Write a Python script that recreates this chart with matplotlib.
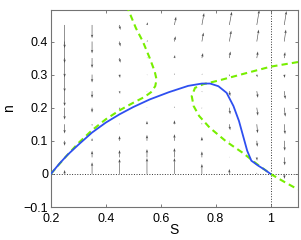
import numpy as np
import matplotlib
matplotlib.use('Agg')
import matplotlib.pyplot as plt

plt.rcParams['font.family'] = ['Liberation Sans', 'DejaVu Sans']

# trajectory (blue)
traj_S = [0.2, 0.23, 0.26, 0.3, 0.35, 0.4, 0.45, 0.5, 0.56, 0.63, 0.7, 0.75, 0.78,
          0.81, 0.84, 0.865, 0.885, 0.9, 0.915, 0.93, 0.955, 0.98, 1.0]
traj_n = [0, 0.03, 0.057, 0.088, 0.125, 0.155, 0.18, 0.202, 0.225, 0.247, 0.266, 0.273,
          0.273, 0.265, 0.245, 0.205, 0.16, 0.115, 0.07, 0.04, 0.025, 0.012, 0]

# nullclines (green dashed)
null1_S = [0.2, 0.25, 0.3, 0.35, 0.4, 0.45, 0.5, 0.54, 0.565, 0.58, 0.585, 0.578,
           0.56, 0.535, 0.51, 0.48]
null1_n = [0, 0.048, 0.093, 0.132, 0.165, 0.192, 0.215, 0.232, 0.247, 0.265, 0.285, 0.31,
           0.35, 0.4, 0.44, 0.5]
null2_S = [1.1, 1.0, 0.9, 0.815, 0.755, 0.725, 0.713, 0.72, 0.74, 0.778, 0.84, 0.9,
           0.95, 1.0, 1.05, 1.1]
null2_n = [0.338, 0.324, 0.302, 0.283, 0.271, 0.26, 0.235, 0.205, 0.175, 0.14, 0.097,
           0.063, 0.03, 0.0, -0.024, -0.047]

# direction field grid
grid_S = [0.25, 0.35, 0.45, 0.55, 0.65, 0.75, 0.85, 0.95, 1.05]
grid_n = [0, 0.05, 0.1, 0.15, 0.2, 0.25, 0.3, 0.35, 0.4, 0.45]

# one list per column (S), rows go up in n
field_V = [
    [0.012, -0.005, -0.015, -0.028, -0.036, -0.045, -0.052, -0.058, -0.065, -0.07],
    [0.035, 0.02, 0.008, -0.005, -0.015, -0.021, -0.024, -0.03, -0.036, -0.04],
    [0.045, 0.022, 0.015, 0.003, -0.005, -0.008, -0.01, -0.014, -0.015, -0.015],
    [0.048, 0.025, 0.018, 0.01, 0.002, -0.002, -0.002, 0.002, 0.004, 0.008],
    [0.048, 0.028, 0.02, 0.012, 0.004, 0.002, 0.004, 0.009, 0.016, 0.025],
    [0.03, 0.018, 0.012, 0.004, -0.003, -0.003, 0.003, 0.015, 0.027, 0.036],
    [0.015, 0.002, -0.003, -0.018, -0.02, -0.015, -0.005, 0.02, 0.033, 0.04],
    [0.004, -0.01, -0.018, -0.027, -0.024, -0.02, -0.008, 0.02, 0.036, 0.045],
    [-0.015, -0.024, -0.03, -0.03, -0.027, -0.024, -0.01, 0.018, 0.036, 0.042],
]
field_U = [
    [0, 0, 0, 0, 0, 0, 0, 0, 0, 0],
    [0, 0, 0, 0, 0, 0, 0, 0, 0, 0],
    [0, 0, 0, 0, 0.002, 0.002, 0.002, 0.003, 0.003, 0.003],
    [0, 0, 0, 0, 0, 0, 0.001, 0.002, 0.003, 0.003],
    [0, 0, 0, 0, 0, 0.001, 0.001, 0.002, 0.004, 0.006],
    [0, 0, 0, 0, 0, 0.001, 0.002, 0.004, 0.006, 0.008],
    [0, 0, 0.001, 0.003, 0.003, 0.003, 0.002, 0.004, 0.007, 0.009],
    [0, 0.001, 0.002, 0.003, 0.004, 0.004, 0.002, 0.004, 0.007, 0.009],
    [0.001, 0.002, 0.002, 0.003, 0.004, 0.004, 0.002, 0.003, 0.006, 0.008],
]

x_ticks = [0.2, 0.4, 0.6, 0.8, 1.0]
x_labels = ['0.2', '0.4', '0.6', '0.8', '1']
y_ticks = [-0.1, 0, 0.1, 0.2, 0.3, 0.4]
y_labels = ['\u22120.1', '0', '0.1', '0.2', '0.3', '0.4']

fig = plt.figure(figsize=(3.01, 2.40), dpi=100)
ax = fig.add_axes([0.169, 0.1375, 0.821, 0.8205])

SS, NN = np.meshgrid(grid_S, grid_n)
U = np.array(field_U).T
V = np.array(field_V).T
ax.quiver(SS, NN, U, V, angles='xy', scale_units='xy', scale=1,
          color='0.3', units='dots', width=0.6, headwidth=4, headlength=6,
          headaxislength=5, minlength=0, zorder=2)

ax.axhline(0, color='0.2', ls=':', lw=0.7, zorder=1)
ax.axvline(1, color='0.2', ls=':', lw=0.7, zorder=1)

ax.plot(null1_S, null1_n, ls='--', color='#77ee00', lw=1.5, dashes=(3, 2), zorder=3)
ax.plot(null2_S, null2_n, ls='--', color='#77ee00', lw=1.5, dashes=(3, 2), zorder=3)
ax.plot(traj_S, traj_n, color='#2e4ff0', lw=1.3, zorder=4)

ax.set_xlim(0.2, 1.1)
ax.set_ylim(-0.1, 0.495)
ax.set_xticks(x_ticks)
ax.set_xticklabels(x_labels)
ax.set_yticks(y_ticks)
ax.set_yticklabels(y_labels)
ax.tick_params(direction='in', length=2.5, width=0.6, labelsize=9,
               color='0.4', right=True, top=True)
ax.tick_params(axis='x', pad=4)
ax.tick_params(axis='y', pad=2)
for sp in ax.spines.values():
    sp.set_color('0.45')
    sp.set_linewidth(0.8)

ax.set_xlabel('S', fontsize=10, labelpad=-1)
ax.set_ylabel('n', fontsize=10, labelpad=5)

fig.savefig('out.png', dpi=100)
